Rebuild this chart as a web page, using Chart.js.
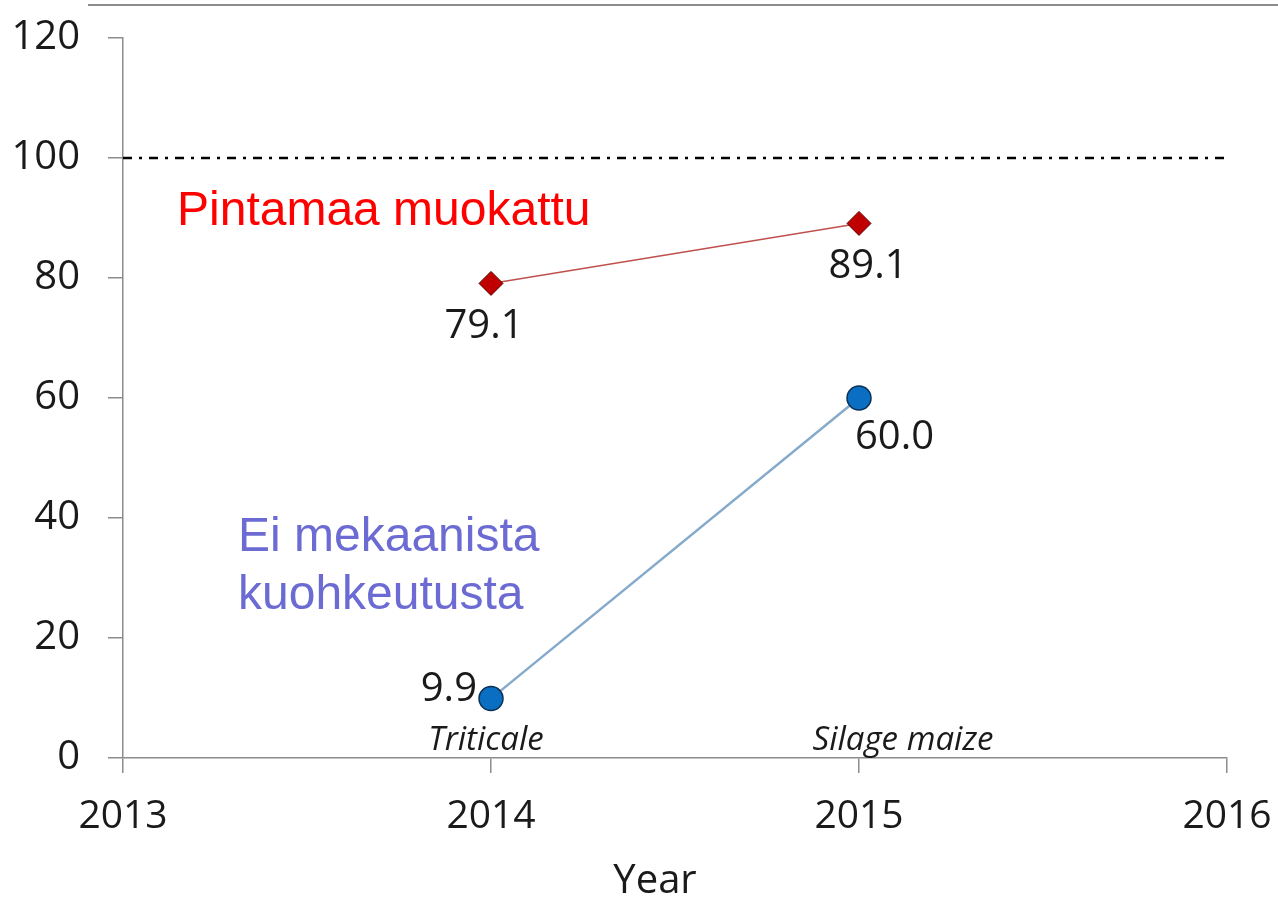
<!DOCTYPE html>
<html lang="en">
<head>
    <meta charset="UTF-8">
    <title>Chart</title>
    <style>
        html, body { margin: 0; padding: 0; background: #fff; }
        #wrap { width: 1278px; height: 902px; position: relative; }
    </style>
</head>
<body>
    <div id="wrap"><canvas id="yieldChart" width="1278" height="902"></canvas></div>
    <script src="https://cdn.jsdelivr.net/npm/chart.js"></script>
    <script>
        // data
        const years = [2014, 2015]
        const cropNames = ["Triticale", "Silage maize"]
        const tilled = [79.1, 89.1]        // Pintamaa muokattu
        const untilled = [9.9, 60.0]       // Ei mekaanista kuohkeutusta
        const refLevel = [100, 100]
        const refYears = [2013, 2016]

        const font = "'Open Sans', 'Liberation Sans', sans-serif"

        function toPoints(xs, ys) {
            return xs.map((x, i) => ({ x: x, y: ys[i] }))
        }

        // labels and notes drawn on top of the chart
        const labelPlugin = {
            id: 'labels',
            afterDatasetsDraw(chart) {
                const ctx = chart.ctx
                const x = chart.scales.x
                const y = chart.scales.y
                ctx.save()

                // thin rule at the very top
                ctx.strokeStyle = '#8c8c8c'
                ctx.lineWidth = 2
                ctx.beginPath()
                ctx.moveTo(88, 5)
                ctx.lineTo(1278, 5)
                ctx.stroke()

                // value labels
                ctx.fillStyle = '#1a1a1a'
                ctx.font = `40px ${font}`
                ctx.textBaseline = 'middle'
                ctx.textAlign = 'center'
                ctx.fillText(tilled[0].toFixed(1), x.getPixelForValue(years[0]) - 7, y.getPixelForValue(tilled[0]) + 43)
                ctx.fillText(tilled[1].toFixed(1), x.getPixelForValue(years[1]) + 9, y.getPixelForValue(tilled[1]) + 43)
                ctx.textAlign = 'left'
                ctx.fillText(untilled[1].toFixed(1), x.getPixelForValue(years[1]) - 4, y.getPixelForValue(untilled[1]) + 40)
                ctx.textAlign = 'right'
                ctx.fillText(untilled[0].toFixed(1), x.getPixelForValue(years[0]) - 14, y.getPixelForValue(untilled[0]) - 9)

                // crop names just above the x axis
                ctx.font = `italic 33px ${font}`
                ctx.textAlign = 'center'
                ctx.fillText(cropNames[0], x.getPixelForValue(years[0]) - 5, y.getPixelForValue(0) - 17)
                ctx.fillText(cropNames[1], x.getPixelForValue(years[1]) + 44, y.getPixelForValue(0) - 17)

                // axis title
                ctx.font = `40px ${font}`
                ctx.fillText('Year', 655, 882)

                // series notes
                ctx.font = `48px 'Liberation Sans', Arial, sans-serif`
                ctx.textAlign = 'left'
                ctx.fillStyle = '#ff0000'
                ctx.fillText('Pintamaa muokattu', 177, 212)
                ctx.fillStyle = '#6b6bd3'
                ctx.fillText('Ei mekaanista', 238, 538)
                ctx.fillText('kuohkeutusta', 238, 596)

                ctx.restore()
            }
        }

        const cfg = {
            type: 'line',
            data: {
                datasets: [
                    {
                        label: 'ref',
                        data: toPoints(refYears, refLevel),
                        borderColor: '#000',
                        borderWidth: 2.5,
                        borderDash: [9, 7, 3, 7],
                        pointRadius: 0
                    },
                    {
                        label: 'Pintamaa muokattu',
                        data: toPoints(years, tilled),
                        borderColor: '#c0504d',
                        borderWidth: 1.5,
                        pointStyle: 'rectRot',
                        pointRadius: 12,
                        pointBackgroundColor: '#c00000',
                        pointBorderColor: '#5a0000',
                        pointBorderWidth: 1
                    },
                    {
                        label: 'Ei mekaanista kuohkeutusta',
                        data: toPoints(years, untilled),
                        borderColor: '#86aacb',
                        borderWidth: 2.5,
                        pointStyle: 'circle',
                        pointRadius: 12,
                        pointBackgroundColor: '#0a6fc2',
                        pointBorderColor: '#0d2f55',
                        pointBorderWidth: 1.5
                    }
                ]
            },
            options: {
                responsive: false,
                animation: false,
                layout: { padding: { top: 38, right: 51, left: 0, bottom: 0 } },
                plugins: {
                    legend: { display: false },
                    tooltip: { enabled: false }
                },
                scales: {
                    x: {
                        type: 'linear',
                        min: 2013,
                        max: 2016,
                        ticks: {
                            stepSize: 1,
                            padding: 20,
                            color: '#1a1a1a',
                            font: { family: font, size: 39 },
                            callback: v => String(v)
                        },
                        grid: { drawOnChartArea: false, tickLength: 15, color: '#8c8c8c', lineWidth: 1.5 },
                        border: { color: '#8c8c8c', width: 1.5 },
                        afterFit: s => { s.height = 144; s.paddingLeft = 0; s.paddingRight = 0 }
                    },
                    y: {
                        min: 0,
                        max: 120,
                        ticks: {
                            stepSize: 20,
                            padding: 28,
                            color: '#1a1a1a',
                            font: { family: font, size: 40 }
                        },
                        grid: { drawOnChartArea: false, tickLength: 15, color: '#8c8c8c', lineWidth: 1.5 },
                        border: { color: '#8c8c8c', width: 1.5 },
                        afterFit: s => { s.width = 123; s.paddingTop = 0; s.paddingBottom = 0 }
                    }
                }
            },
            plugins: [labelPlugin]
        }

        new Chart(document.getElementById('yieldChart'), cfg)
    </script>
</body>
</html>
